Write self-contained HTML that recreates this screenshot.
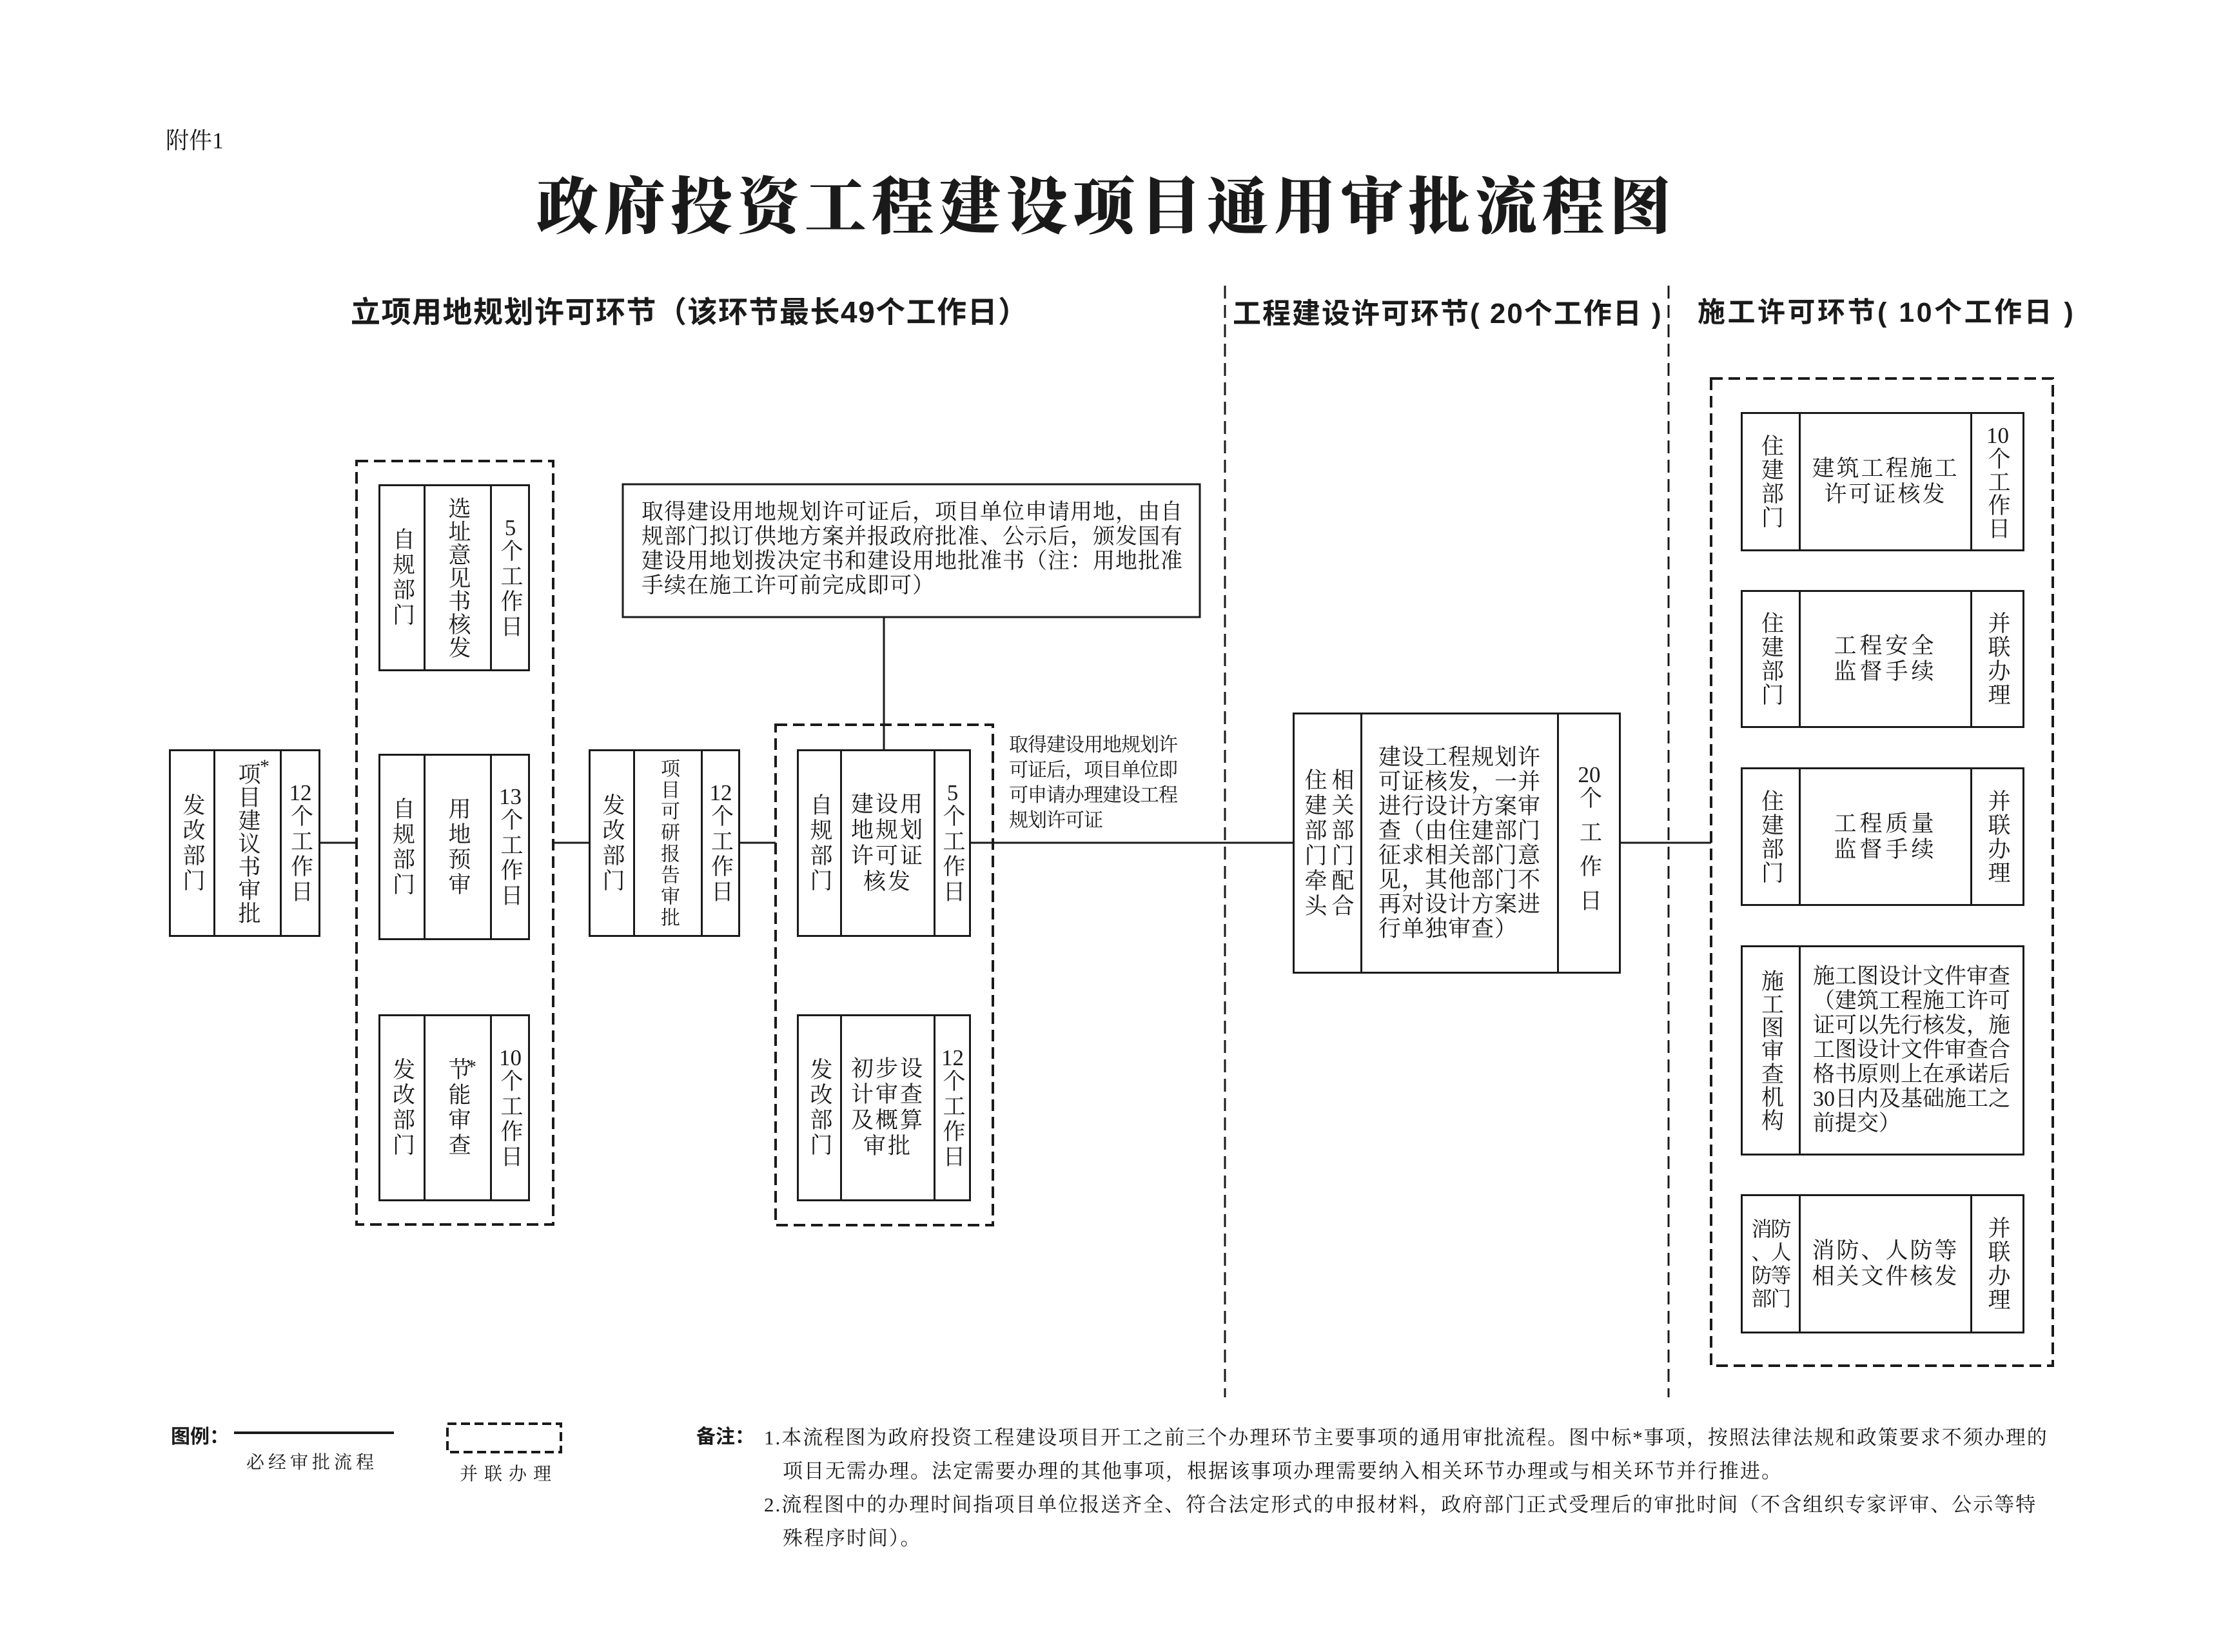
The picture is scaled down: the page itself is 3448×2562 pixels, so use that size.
<!DOCTYPE html>
<html><head><meta charset="utf-8">
<style>
html,body{margin:0;padding:0;background:#fff}
#pg{position:relative;width:3448px;height:2562px;overflow:hidden;background:#fff;color:#1a1a1a;font-family:"Liberation Serif","Noto Serif CJK SC",serif}
.a{position:absolute;white-space:nowrap}
.b{position:absolute;border:3px solid #1a1a1a;box-sizing:border-box;display:flex;background:#fff}
.c{display:flex;align-items:center;justify-content:center;box-sizing:border-box;flex:none;font-size:35px}
.c+.c{border-left:3px solid #1a1a1a}
.f{flex:1}
.v{writing-mode:vertical-rl;text-orientation:upright;letter-spacing:4px;line-height:40px}
.vl{writing-mode:vertical-lr;text-orientation:upright;letter-spacing:4px;line-height:40px}
.n{text-combine-upright:all}
.h{text-align:center;line-height:40px;letter-spacing:3px}
.hd{font-family:"Liberation Sans","Noto Sans CJK SC",sans-serif;font-weight:700}
</style></head><body><div id="pg">
<svg width="3448" height="2562" style="position:absolute;left:0;top:0">
<g stroke="#1a1a1a" fill="none">
<line x1="1900" y1="443" x2="1900" y2="2167" stroke-width="3" stroke-dasharray="20,10"/>
<line x1="2588" y1="443" x2="2588" y2="2167" stroke-width="3" stroke-dasharray="20,10"/>
<rect x="553" y="715" width="305" height="1184" stroke-width="4" stroke-dasharray="18,9"/>
<rect x="1203" y="1124" width="337" height="776" stroke-width="4" stroke-dasharray="18,9"/>
<rect x="2654" y="587" width="530" height="1531" stroke-width="4" stroke-dasharray="18,9"/>
<line x1="497" y1="1307" x2="553" y2="1307" stroke-width="3"/>
<line x1="858" y1="1307" x2="913" y2="1307" stroke-width="3"/>
<line x1="1148" y1="1307" x2="1203" y2="1307" stroke-width="3"/>
<line x1="1506" y1="1307" x2="2005" y2="1307" stroke-width="3"/>
<line x1="2514" y1="1307" x2="2654" y2="1307" stroke-width="3"/>
<line x1="1371" y1="957" x2="1371" y2="1162" stroke-width="3"/>
<rect x="966" y="751" width="895" height="206" stroke-width="3"/>
<line x1="363" y1="2222" x2="611" y2="2222" stroke-width="4"/>
<rect x="694" y="2208" width="176" height="44" stroke-width="4" stroke-dasharray="14,7"/>
</g>
</svg>

<div class="a" style="left:257px;top:190px;font-size:36px">附件1</div>
<div class="a" style="left:800px;top:245px;width:1832px;text-align:center;font-size:96px;font-weight:900;letter-spacing:8px;font-family:'Noto Serif CJK SC',serif">政府投资工程建设项目通用审批流程图</div>
<div class="a hd" style="left:544px;top:448px;font-size:46px;letter-spacing:1.5px">立项用地规划许可环节（该环节最长49个工作日）</div>
<div class="a hd" style="left:1912px;top:450px;font-size:44px;letter-spacing:2px">工程建设许可环节( 20个工作日 )</div>
<div class="a hd" style="left:2633px;top:450px;font-size:43px;letter-spacing:3.5px">施工许可环节( 10个工作日 )</div>

<!-- Box1 -->
<div class="b" style="left:262px;top:1162px;width:235px;height:291px">
<div class="c" style="width:66px"><span class="v">发改部门</span></div>
<div class="c" style="width:103px"><span class="v" style="letter-spacing:1px">项目建议书审批</span></div>
<div class="c f"><span class="v"><span class="n">12</span>个工作日</span></div>
</div>
<div class="a" style="left:403px;top:1172px;font-size:30px">*</div>

<!-- Group1 -->
<div class="b" style="left:587px;top:751px;width:235px;height:290px">
<div class="c" style="width:67px"><span class="v">自规部门</span></div>
<div class="c" style="width:103px"><span class="v" style="letter-spacing:1px">选址意见书核发</span></div>
<div class="c f"><span class="v"><span class="n">5</span>个工作日</span></div>
</div>
<div class="b" style="left:587px;top:1169px;width:235px;height:289px">
<div class="c" style="width:67px"><span class="v">自规部门</span></div>
<div class="c" style="width:103px"><span class="v">用地预审</span></div>
<div class="c f"><span class="v"><span class="n">13</span>个工作日</span></div>
</div>
<div class="b" style="left:587px;top:1573px;width:235px;height:290px">
<div class="c" style="width:67px"><span class="v">发改部门</span></div>
<div class="c" style="width:103px"><span class="v">节能审查</span></div>
<div class="c f"><span class="v"><span class="n">10</span>个工作日</span></div>
</div>
<div class="a" style="left:724px;top:1638px;font-size:30px">*</div>

<!-- 可研 -->
<div class="b" style="left:913px;top:1162px;width:235px;height:291px">
<div class="c" style="width:66px"><span class="v">发改部门</span></div>
<div class="c" style="width:105px;font-size:30px"><span class="v" style="letter-spacing:3px">项目可研报告审批</span></div>
<div class="c f"><span class="v"><span class="n">12</span>个工作日</span></div>
</div>

<!-- 建设用地 -->
<div class="b" style="left:1236px;top:1162px;width:270px;height:291px">
<div class="c" style="width:64px"><span class="v">自规部门</span></div>
<div class="c" style="width:145px"><div class="h">建设用<br>地规划<br>许可证<br>核发</div></div>
<div class="c f"><span class="v"><span class="n">5</span>个工作日</span></div>
</div>
<div class="b" style="left:1236px;top:1573px;width:270px;height:290px">
<div class="c" style="width:64px"><span class="v">发改部门</span></div>
<div class="c" style="width:145px"><div class="h">初步设<br>计审查<br>及概算<br>审批</div></div>
<div class="c f"><span class="v"><span class="n">12</span>个工作日</span></div>
</div>

<!-- note -->
<div class="a" style="left:995px;top:776px;font-size:34px;line-height:38px;letter-spacing:1px">取得建设用地规划许可证后，项目单位申请用地，由自<br>规部门拟订供地方案并报政府批准、公示后，颁发国有<br>建设用地划拨决定书和建设用地批准书（注：用地批准<br>手续在施工许可前完成即可）</div>
<div class="a" style="left:1565px;top:1136px;font-size:30px;line-height:39px;letter-spacing:-1px">取得建设用地规划许<br>可证后，项目单位即<br>可申请办理建设工程<br>规划许可证</div>

<!-- 住建 -->
<div class="b" style="left:2005px;top:1105px;width:509px;height:405px">
<div class="c" style="width:102px"><span class="vl" style="letter-spacing:4px;line-height:42px">住建部门牵头<br>相关部门配合</span></div>
<div class="c" style="width:305px"><div style="line-height:38px;letter-spacing:1px;text-align:left">建设工程规划许<br>可证核发，一并<br>进行设计方案审<br>查（由住建部门<br>征求相关部门意<br>见，其他部门不<br>再对设计方案进<br>行单独审查）</div></div>
<div class="c f"><span class="v" style="letter-spacing:18px"><span class="n">20</span>个工作日</span></div>
</div>

<!-- right column -->
<div class="b" style="left:2700px;top:639px;width:440px;height:216px">
<div class="c" style="width:87px"><span class="v" style="letter-spacing:2px">住建部门</span></div>
<div class="c" style="width:266px"><div class="h">建筑工程施工<br>许可证核发</div></div>
<div class="c f"><span class="v" style="letter-spacing:1px"><span class="n">10</span>个工作日</span></div>
</div>
<div class="b" style="left:2700px;top:915px;width:440px;height:214px">
<div class="c" style="width:87px"><span class="v" style="letter-spacing:2px">住建部门</span></div>
<div class="c" style="width:266px"><div class="h" style="letter-spacing:5px">工程安全<br>监督手续</div></div>
<div class="c f"><span class="v" style="letter-spacing:2px">并联办理</span></div>
</div>
<div class="b" style="left:2700px;top:1190px;width:440px;height:215px">
<div class="c" style="width:87px"><span class="v" style="letter-spacing:2px">住建部门</span></div>
<div class="c" style="width:266px"><div class="h" style="letter-spacing:5px">工程质量<br>监督手续</div></div>
<div class="c f"><span class="v" style="letter-spacing:2px">并联办理</span></div>
</div>
<div class="b" style="left:2700px;top:1466px;width:440px;height:326px">
<div class="c" style="width:87px"><span class="v" style="letter-spacing:1px;line-height:40px">施工图审查机构</span></div>
<div class="c f"><div style="line-height:38px;letter-spacing:0px;text-align:left;font-size:34px">施工图设计文件审查<br>（建筑工程施工许可<br>证可以先行核发，施<br>工图设计文件审查合<br>格书原则上在承诺后<br>30日内及基础施工之<br>前提交）</div></div>
</div>
<div class="b" style="left:2700px;top:1852px;width:440px;height:216px">
<div class="c" style="width:87px"><div style="line-height:36px;font-size:32px;text-align:center;letter-spacing:-2px">消防<br>、人<br>防等<br>部门</div></div>
<div class="c" style="width:266px"><div class="h">消防、人防等<br>相关文件核发</div></div>
<div class="c f"><span class="v" style="letter-spacing:2px">并联办理</span></div>
</div>

<!-- legend & notes -->
<div class="a hd" style="left:265px;top:2203px;font-size:30px">图例：</div>
<div class="a" style="left:382px;top:2246px;font-size:28px;letter-spacing:6px">必经审批流程</div>
<div class="a" style="left:713px;top:2264px;font-size:28px;letter-spacing:10px">并联办理</div>
<div class="a hd" style="left:1080px;top:2203px;font-size:30px">备注：</div>
<div class="a" style="left:1185px;top:2204px;font-size:31px;line-height:52px;letter-spacing:2px">1.本流程图为政府投资工程建设项目开工之前三个办理环节主要事项的通用审批流程。图中标*事项，按照法律法规和政策要求不须办理的<br><span style="padding-left:29px">项目无需办理。法定需要办理的其他事项，根据该事项办理需要纳入相关环节办理或与相关环节并行推进。</span><br>2.流程图中的办理时间指项目单位报送齐全、符合法定形式的申报材料，政府部门正式受理后的审批时间（不含组织专家评审、公示等特<br><span style="padding-left:29px">殊程序时间）。</span></div>
</div></body></html>
